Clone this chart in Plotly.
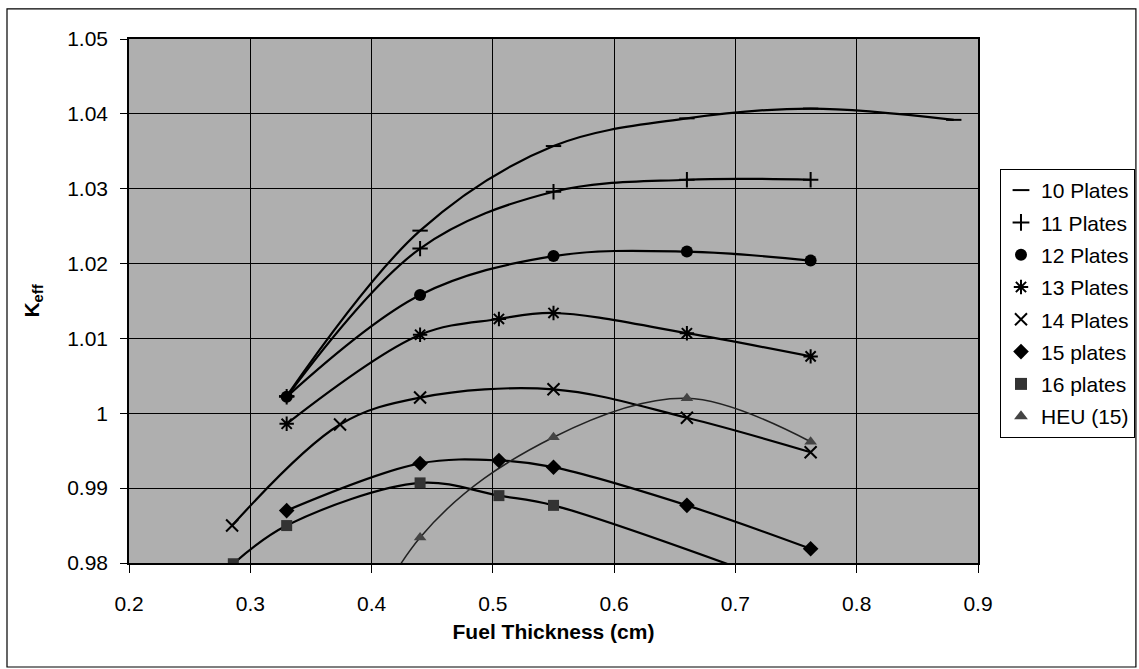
import plotly.graph_objects as go

# ---- data ----
series_names = ["10 Plates", "11 Plates", "12 Plates", "13 Plates",
                "14 Plates", "15 plates", "16 plates", "HEU (15)"]

x_10 = [0.33, 0.44, 0.55, 0.66, 0.762, 0.88]
y_10 = [1.0023, 1.0244, 1.0357, 1.0394, 1.0407, 1.0392]

x_11 = [0.33, 0.44, 0.55, 0.66, 0.762]
y_11 = [1.0022, 1.0220, 1.0296, 1.0312, 1.0312]

x_12 = [0.33, 0.44, 0.55, 0.66, 0.762]
y_12 = [1.0022, 1.0158, 1.0210, 1.0216, 1.0204]

x_13 = [0.33, 0.44, 0.505, 0.55, 0.66, 0.762]
y_13 = [0.9986, 1.0105, 1.0126, 1.0134, 1.0107, 1.0076]

x_14 = [0.285, 0.374, 0.44, 0.55, 0.66, 0.762]
y_14 = [0.9850, 0.9985, 1.0021, 1.0032, 0.9994, 0.9948]

x_15 = [0.33, 0.44, 0.505, 0.55, 0.66, 0.762]
y_15 = [0.9870, 0.9933, 0.9937, 0.9928, 0.9877, 0.9819]

x_16 = [0.286, 0.33, 0.44, 0.505, 0.55, 0.762]
y_16 = [0.9799, 0.9850, 0.9907, 0.9890, 0.9877, 0.9758]

x_heu = [0.33, 0.44, 0.55, 0.66, 0.762]
y_heu = [0.948, 0.9834, 0.9968, 1.0020, 0.9962]

x_ticks = [0.2, 0.3, 0.4, 0.5, 0.6, 0.7, 0.8, 0.9]
x_tick_labels = ["0.2", "0.3", "0.4", "0.5", "0.6", "0.7", "0.8", "0.9"]
y_ticks = [0.98, 0.99, 1.0, 1.01, 1.02, 1.03, 1.04, 1.05]
y_tick_labels = ["0.98", "0.99", "1", "1.01", "1.02", "1.03", "1.04", "1.05"]

xs = [x_10, x_11, x_12, x_13, x_14, x_15, x_16, x_heu]
ys = [y_10, y_11, y_12, y_13, y_14, y_15, y_16, y_heu]

# ---- styles ----
symbols = ["line-ew", "cross-thin", "circle", "asterisk", "x-thin",
           "diamond", "square", "triangle-up"]
msizes = [11, 11, 12, 12, 12, 12, 11, 11]
mcolors = ["black", "black", "black", "black", "black", "black", "#333333", "#444444"]
lwidths = [2.2, 2.2, 2.2, 2.2, 2.2, 2.2, 2.2, 1.5]
lcolors = ["black"] * 7 + ["#222222"]

FONT = "Liberation Sans, Arial, sans-serif"

fig = go.Figure()
for i, name in enumerate(series_names):
    fig.add_trace(go.Scatter(
        x=xs[i], y=ys[i], mode="lines", line=dict(color=lcolors[i], width=lwidths[i],
                                                  shape="spline", smoothing=1.0),
        showlegend=False, legendgroup=name, hoverinfo="skip"))
for i, name in enumerate(series_names):
    open_sym = symbols[i] in ("line-ew", "cross-thin", "asterisk", "x-thin")
    fig.add_trace(go.Scatter(
        x=xs[i], y=ys[i], mode="markers", name=name, legendgroup=name,
        marker=dict(symbol=symbols[i], size=msizes[i], color=mcolors[i],
                    line=dict(color=mcolors[i], width=2 if open_sym else 0))))

fig.update_layout(
    width=1139, height=669,
    margin=dict(l=129, r=161, t=39, b=106, autoexpand=False),
    paper_bgcolor="white",
    plot_bgcolor="#afafaf",
    font=dict(family=FONT, size=21, color="black"),
    showlegend=True,
    legend=dict(x=1.0259, y=0.752, xanchor="left", yanchor="top",
                bgcolor="white", bordercolor="black", borderwidth=1,
                font=dict(family=FONT, size=21, color="black"),
                traceorder="grouped", tracegroupgap=2,
                itemsizing="constant"),
    xaxis=dict(range=[0.2, 0.9], tickvals=x_ticks, ticktext=x_tick_labels,
               showgrid=True, gridcolor="black", gridwidth=1,
               showline=True, linecolor="black", linewidth=1.5, mirror=True,
               ticks="outside", ticklen=8, tickcolor="black",
               ticklabelstandoff=13, automargin=False, zeroline=False,
               title=dict(text="<b>Fuel Thickness (cm)</b>", standoff=10,
                          font=dict(family=FONT, size=21))),
    yaxis=dict(range=[0.98, 1.05], tickvals=y_ticks, ticktext=y_tick_labels,
               showgrid=True, gridcolor="black", gridwidth=1,
               showline=True, linecolor="black", linewidth=1.5, mirror=True,
               ticks="outside", ticklen=7, tickcolor="black",
               ticklabelstandoff=8, automargin=False, zeroline=False,
               title=dict(text="<b>K<sub>eff</sub></b>", standoff=22,
                          font=dict(family=FONT, size=21))),
    shapes=[dict(type="rect", xref="paper", yref="paper",
                 x0=-0.1437, x1=1.186, y0=-0.1985, y1=1.0573,
                 line=dict(color="black", width=1.2), fillcolor="rgba(0,0,0,0)",
                 layer="below")],
)

fig.write_html("out.html")
